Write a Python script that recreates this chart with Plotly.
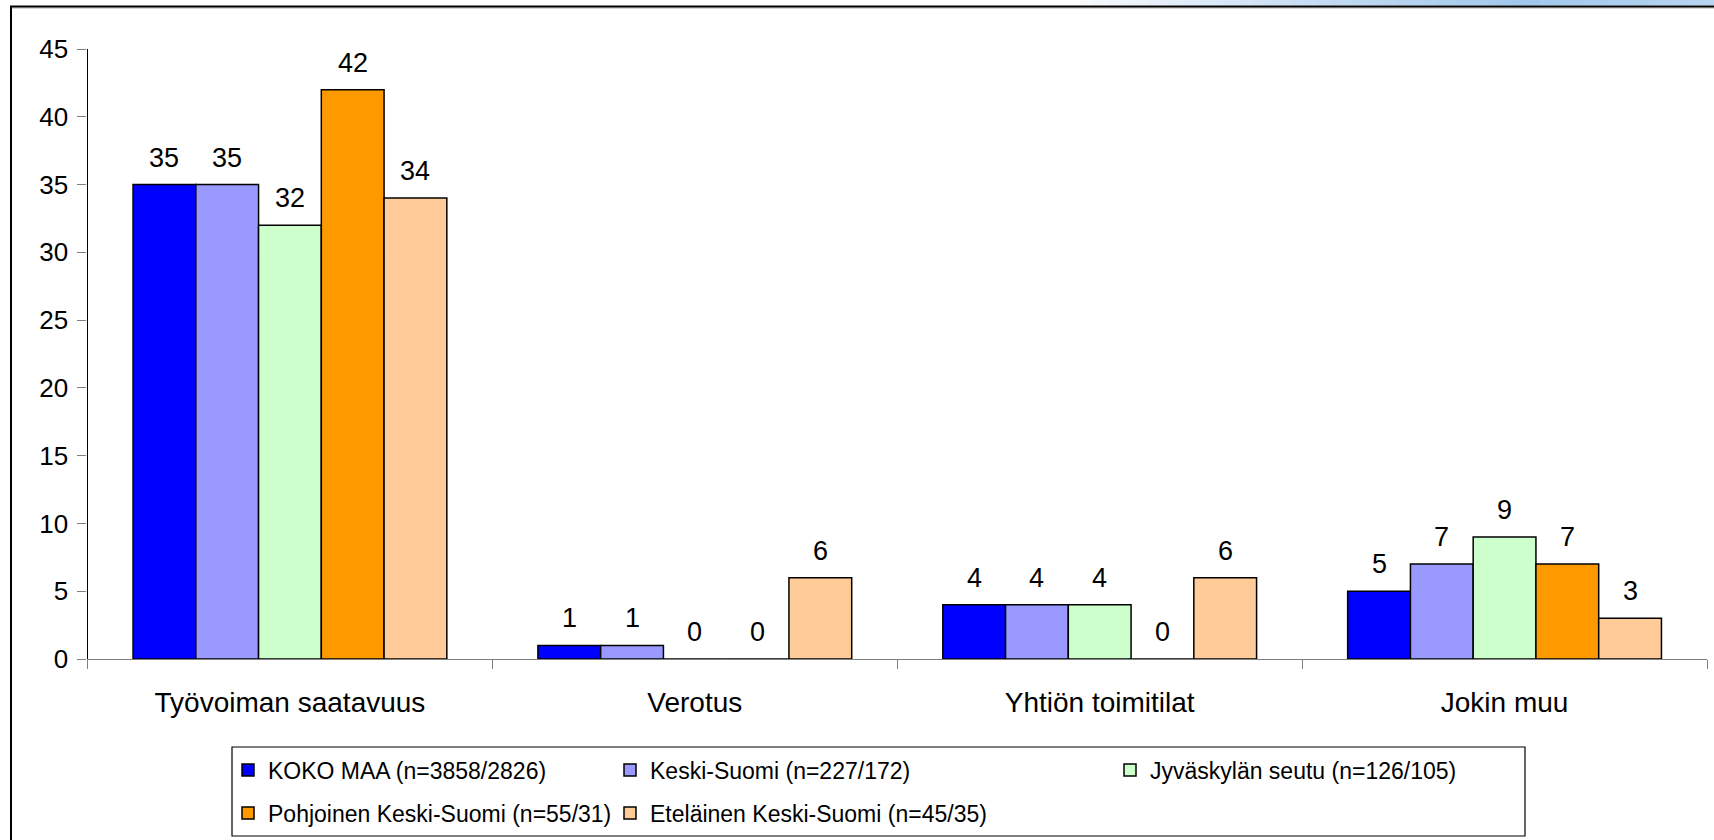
import plotly.graph_objects as go

categories = ["Työvoiman saatavuus", "Verotus", "Yhtiön toimitilat", "Jokin muu"]
series_names = [
    "KOKO MAA (n=3858/2826)",
    "Keski-Suomi (n=227/172)",
    "Jyväskylän seutu (n=126/105)",
    "Pohjoinen Keski-Suomi (n=55/31)",
    "Eteläinen Keski-Suomi (n=45/35)",
]
koko_maa = [35, 1, 4, 5]
keski_suomi = [35, 1, 4, 7]
jyvaskylan_seutu = [32, 0, 4, 9]
pohjoinen = [42, 0, 0, 7]
etelainen = [34, 6, 6, 3]
y_ticks = [0, 5, 10, 15, 20, 25, 30, 35, 40, 45]

series_values = [koko_maa, keski_suomi, jyvaskylan_seutu, pohjoinen, etelainen]
colors = ["#0000FF", "#9999FF", "#CCFFCC", "#FF9900", "#FFCC99"]

W, H = 1714, 840
FONT = "Liberation Sans, Arial, sans-serif"
FS_TICK = 26
FS_CAT = 28
FS_BAR = 27
FS_LEG = 23
BARGAP = 0.225

def px_x(p):
    return p / W

def px_y(p):
    return 1 - p / H

fig = go.Figure()
legend_ids = ["legend", "legend2", "legend3", "legend4", "legend5"]
for i, (name, vals) in enumerate(zip(series_names, series_values)):
    fig.add_trace(go.Bar(
        x=categories, y=vals, name=name,
        marker=dict(color=colors[i], line=dict(color="#000000", width=1.5)),
        legend=legend_ids[i], hoverinfo="x+y+name",
    ))

# value labels above bars
n = len(series_values)
w = (1 - BARGAP) / n
annotations = []
for i, vals in enumerate(series_values):
    for j, v in enumerate(vals):
        annotations.append(dict(
            x=j + (i - (n - 1) / 2) * w, y=v, xref="x", yref="y",
            text=str(v), showarrow=False, yanchor="middle", yshift=27,
            font=dict(family=FONT, size=FS_BAR, color="#000000"),
        ))

# legend placements (row/column layout)
legend_pos = [(228, 770), (610, 770), (1110, 770), (228, 813), (610, 813)]
layout_legends = {}
for lid, (lx, ly) in zip(legend_ids, legend_pos):
    layout_legends[lid] = dict(
        x=px_x(lx), y=px_y(ly), xanchor="left", yanchor="middle",
        orientation="v", bgcolor="rgba(0,0,0,0)", borderwidth=0,
        font=dict(family=FONT, size=FS_LEG, color="#000000"),
    )

shapes = []
# top gradient strip
grad_x0, grad_x1 = 1080, 1714
steps = 48
stops = [(0.0, (248, 251, 254)), (0.35, (200, 222, 244)), (0.7, (160, 200, 236)), (1.0, (184, 214, 242))]
def grad_color(t):
    for (t0, ca), (t1, cb) in zip(stops[:-1], stops[1:]):
        if t <= t1:
            u = (t - t0) / (t1 - t0)
            return tuple(int(ca[m] + (cb[m] - ca[m]) * u) for m in range(3))
    return stops[-1][1]
for k in range(steps):
    xa = grad_x0 + (grad_x1 - grad_x0) * k / steps
    xb = grad_x0 + (grad_x1 - grad_x0) * (k + 1) / steps
    c = grad_color((k + 0.5) / steps)
    shapes.append(dict(type="rect", xref="paper", yref="paper",
                       x0=px_x(xa), x1=px_x(xb + 0.5), y0=px_y(5.5), y1=1,
                       line=dict(width=0), fillcolor="rgb(%d,%d,%d)" % c, layer="below"))
# outer frame (top and left)
shapes.append(dict(type="line", xref="paper", yref="paper",
                   x0=px_x(11), x1=1, y0=px_y(8), y1=px_y(8),
                   line=dict(color="#B0B0B0", width=1)))
shapes.append(dict(type="line", xref="paper", yref="paper",
                   x0=px_x(10), x1=1, y0=px_y(6.5), y1=px_y(6.5),
                   line=dict(color="#000000", width=2)))
shapes.append(dict(type="line", xref="paper", yref="paper",
                   x0=px_x(11), x1=px_x(11), y0=px_y(6.5), y1=0,
                   line=dict(color="#000000", width=2)))
# legend box
shapes.append(dict(type="rect", xref="paper", yref="paper",
                   x0=px_x(232), x1=px_x(1525), y0=px_y(836), y1=px_y(747),
                   line=dict(color="#000000", width=1.2), fillcolor="rgba(0,0,0,0)"))

fig.update_layout(
    width=W, height=H,
    margin=dict(l=0, r=0, t=0, b=0, autoexpand=False),
    paper_bgcolor="#FFFFFF", plot_bgcolor="#FFFFFF",
    barmode="group", bargap=BARGAP, bargroupgap=0,
    font=dict(family=FONT, size=FS_TICK, color="#000000"),
    showlegend=True,
    annotations=annotations,
    shapes=shapes,
    **layout_legends,
    xaxis=dict(
        domain=[px_x(87.5), px_x(1707)],
        type="category", categoryorder="array", categoryarray=categories,
        showline=True, linecolor="#808080", linewidth=1.2,
        ticks="outside", tickson="boundaries", ticklen=9, tickcolor="#808080", tickwidth=1.2,
        showgrid=False, zeroline=False, automargin=False,
        tickfont=dict(family=FONT, size=FS_CAT, color="#000000"),
        ticklabelstandoff=18,
    ),
    yaxis=dict(
        domain=[px_y(659), px_y(49)],
        range=[0, 45], tickvals=y_ticks,
        showline=True, linecolor="#000000", linewidth=1.2,
        ticks="outside", ticklen=9, tickcolor="#808080", tickwidth=1.2,
        showgrid=False, zeroline=False, automargin=False,
        tickfont=dict(family=FONT, size=FS_TICK, color="#000000"),
        ticklabelstandoff=4,
    ),
)

fig.write_html("out.html", config={"displayModeBar": False},
               post_script="document.body.style.margin='0';")
